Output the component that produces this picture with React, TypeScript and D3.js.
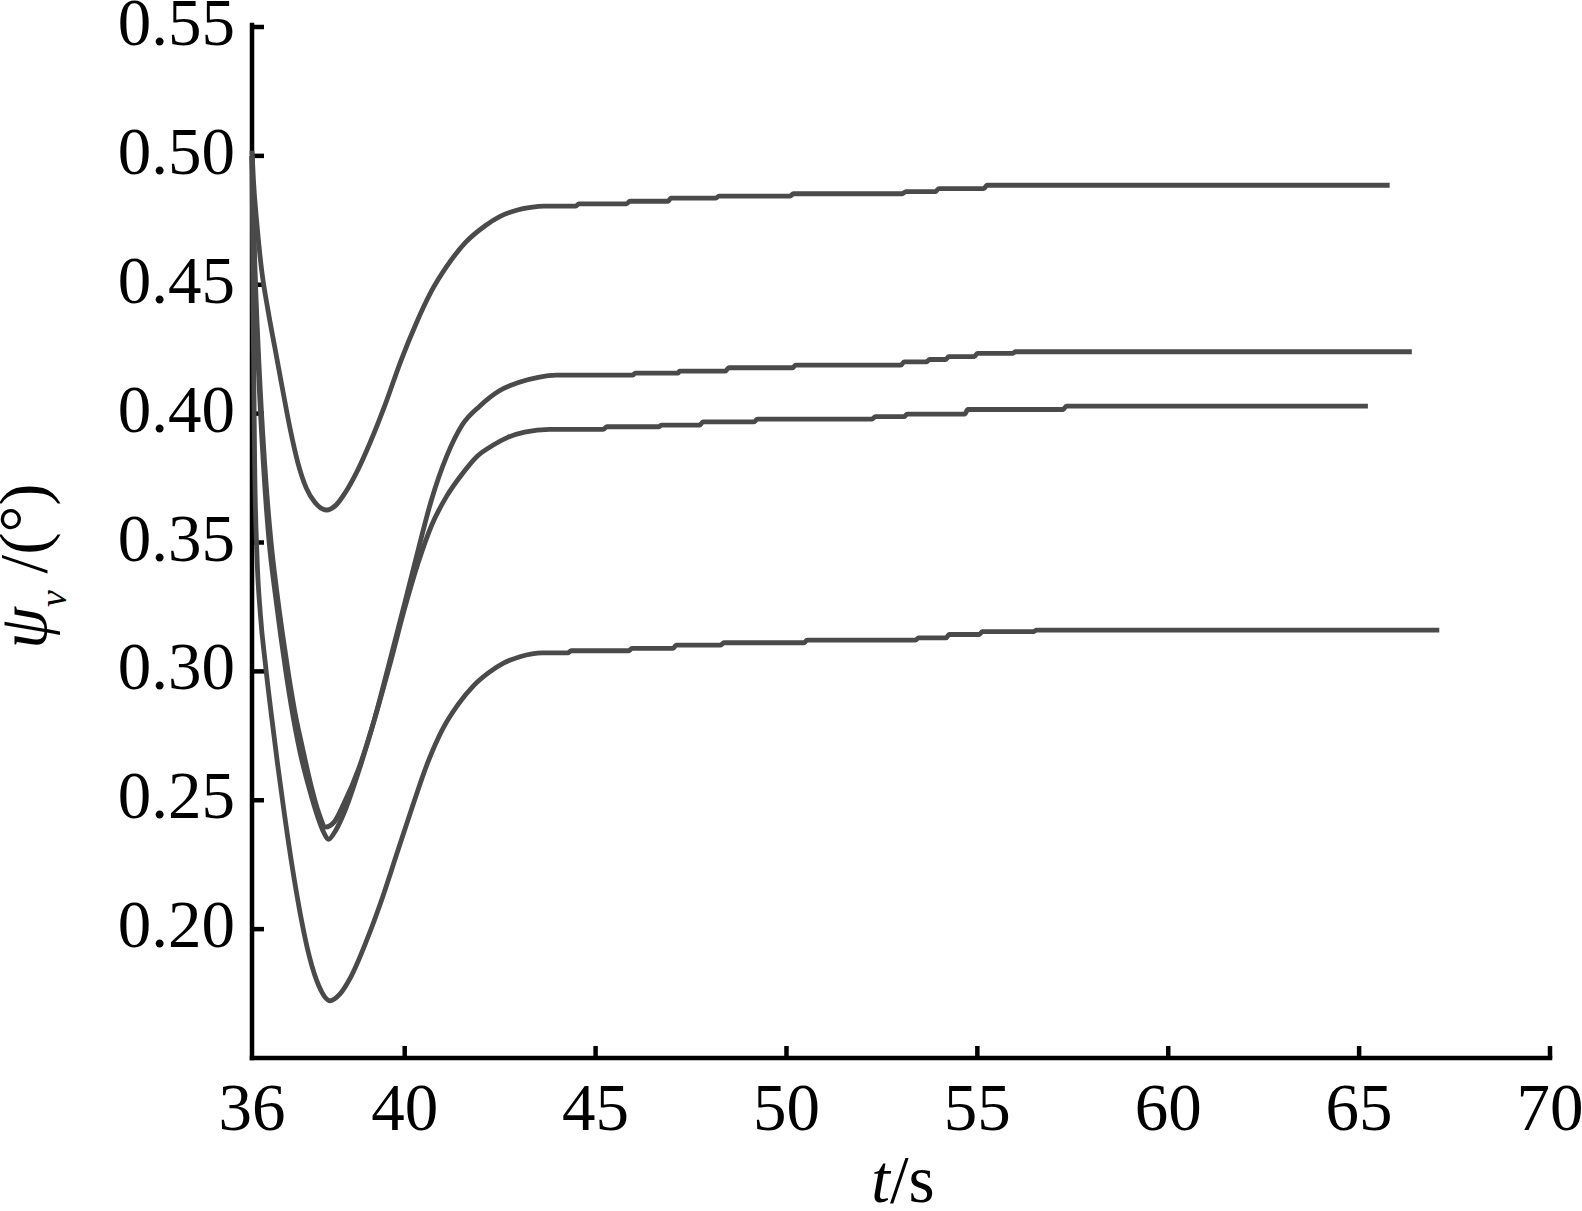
import React from "react";
import * as d3 from "d3";

// ---- data ----
const xTicks = [36, 40, 45, 50, 55, 60, 65, 70];
const yTicks = [0.2, 0.25, 0.3, 0.35, 0.4, 0.45, 0.5, 0.55];

// Curve A (top)
const tA = [36.0, 36.04, 36.12, 36.25, 36.42, 36.6, 36.8, 37.0, 37.2, 37.42, 37.65, 37.96, 38.2, 38.45, 38.75, 39.1, 39.5, 39.9, 40.3, 40.7, 41.1, 41.6, 42.1, 42.5, 42.93, 43.3, 43.65, 44.48, 44.56, 45.81, 45.9, 46.9, 46.97, 48.15, 48.23, 50.1, 50.18, 53.03, 53.13, 53.9, 53.99, 55.17, 55.25, 65.8];
const psiA = [0.502, 0.49, 0.475, 0.456, 0.44, 0.4255, 0.4095, 0.394, 0.381, 0.3712, 0.3655, 0.3626, 0.3645, 0.3695, 0.3775, 0.389, 0.404, 0.4205, 0.435, 0.4475, 0.4571, 0.4665, 0.4728, 0.4765, 0.4789, 0.48, 0.4805, 0.4805, 0.4814, 0.4814, 0.4824, 0.4824, 0.4836, 0.4836, 0.4844, 0.4844, 0.4853, 0.4853, 0.4861, 0.4861, 0.4873, 0.4873, 0.4886, 0.4886];

// Curve B (second)
const tB = [36.0, 36.06, 36.16, 36.3, 36.45, 36.6, 36.75, 36.9, 37.07, 37.26, 37.5, 37.7, 37.88, 38.0, 38.2, 38.45, 38.8, 39.2, 39.6, 40.0, 40.35, 40.7, 41.1, 41.5, 41.97, 42.47, 43.0, 43.5, 43.97, 45.97, 46.04, 47.16, 47.2, 48.4, 48.49, 50.16, 50.24, 53.0, 53.08, 53.67, 53.75, 54.17, 54.25, 54.92, 55.0, 55.92, 56.0, 66.38];
const psiB = [0.5, 0.46, 0.42, 0.38, 0.35, 0.331, 0.314, 0.2985, 0.283, 0.2685, 0.2545, 0.2445, 0.2375, 0.2348, 0.2385, 0.2465, 0.2615, 0.281, 0.3035, 0.3265, 0.347, 0.3665, 0.3835, 0.3955, 0.403, 0.4088, 0.4122, 0.4141, 0.4149, 0.4149, 0.4157, 0.4157, 0.4165, 0.4165, 0.4178, 0.4178, 0.4188, 0.4188, 0.4201, 0.4201, 0.421, 0.421, 0.4221, 0.4221, 0.4234, 0.4234, 0.424, 0.424];

// Curve C (third)
const tC = [36.0, 36.07, 36.18, 36.33, 36.5, 36.65, 36.8, 36.95, 37.12, 37.32, 37.55, 37.75, 37.93, 38.15, 38.4, 38.8, 39.2, 39.6, 40.0, 40.35, 40.7, 41.1, 41.5, 41.9, 42.32, 42.7, 43.14, 43.8, 45.2, 45.3, 46.65, 46.73, 47.73, 47.81, 49.15, 49.24, 52.24, 52.33, 53.08, 53.16, 54.67, 54.75, 57.25, 57.33, 65.23];
const psiC = [0.5, 0.46, 0.42, 0.381, 0.35, 0.331, 0.3145, 0.2995, 0.2845, 0.2705, 0.2555, 0.245, 0.2396, 0.2415, 0.2485, 0.2625, 0.281, 0.302, 0.3245, 0.342, 0.3565, 0.368, 0.3765, 0.3835, 0.3878, 0.3908, 0.3928, 0.3939, 0.3939, 0.3949, 0.3949, 0.3955, 0.3955, 0.3968, 0.3968, 0.3979, 0.3979, 0.3988, 0.3988, 0.3998, 0.3998, 0.4016, 0.4016, 0.4029, 0.4029];

// Curve D (bottom)
const tD = [36.0, 36.03, 36.07, 36.13, 36.22, 36.35, 36.5, 36.67, 36.85, 37.05, 37.27, 37.5, 37.75, 38.04, 38.3, 38.6, 39.0, 39.4, 39.8, 40.2, 40.6, 41.0, 41.4, 41.8, 42.2, 42.6, 43.02, 43.6, 44.28, 44.36, 45.87, 45.95, 47.03, 47.11, 48.28, 48.36, 50.46, 50.54, 53.38, 53.46, 54.18, 54.26, 55.05, 55.13, 56.47, 56.55, 67.1];
const psiD = [0.5, 0.44, 0.38, 0.345, 0.322, 0.303, 0.284, 0.264, 0.2445, 0.2245, 0.2055, 0.1895, 0.178, 0.1722, 0.1748, 0.1818, 0.1955, 0.2115, 0.2295, 0.2475, 0.2645, 0.2778, 0.2872, 0.2944, 0.2995, 0.3033, 0.3057, 0.3072, 0.3072, 0.308, 0.308, 0.3089, 0.3089, 0.3102, 0.3102, 0.3111, 0.3111, 0.3121, 0.3121, 0.313, 0.313, 0.3143, 0.3143, 0.3154, 0.3154, 0.316, 0.316];

const seriesT = [tA, tB, tC, tD];
const seriesPsi = [psiA, psiB, psiC, psiD];

const W = 1582;
const H = 1211;
const FONT = "'Liberation Serif', 'Times New Roman', serif";

export default function App() {
  const x = d3.scaleLinear().domain([36, 70]).range([252, 1550]);
  const y = d3.scaleLinear().domain([0.15, 0.55]).range([1058, 27]);
  const line = d3
    .line<[number, number]>()
    .x((d) => x(d[0]))
    .y((d) => y(d[1]))
    .curve(d3.curveMonotoneX);

  const paths = seriesT.map((ts, i) =>
    line(ts.map((t, j) => [t, seriesPsi[i][j]] as [number, number]))
  );

  const tickLen = 12;
  const x0 = x(36);
  const y0 = y(0.15);

  return (
    <svg
      width={W}
      height={H}
      style={{ position: "absolute", left: 0, top: 0, background: "#fff" }}
      fontFamily={FONT}
    >
      <rect x={0} y={0} width={W} height={H} fill="#fff" />
      {/* axes */}
      <g stroke="#000" strokeWidth={4.5} fill="none">
        <line x1={x0} y1={y(0.55) - 2} x2={x0} y2={y0} strokeLinecap="square" />
        <line x1={x0} y1={y0} x2={x(70)} y2={y0} strokeLinecap="square" />
        {yTicks.map((v) => (
          <line key={"yt" + v} x1={x0} x2={x0 + tickLen} y1={y(v)} y2={y(v)} />
        ))}
        {xTicks.slice(1).map((v) => (
          <line key={"xt" + v} x1={x(v)} x2={x(v)} y1={y0} y2={y0 - tickLen} />
        ))}
      </g>
      {/* curves */}
      <g stroke="#4a4a4a" strokeWidth={4.8} fill="none" strokeLinejoin="round">
        {paths.map((p, i) => (
          <path key={"c" + i} d={p || ""} />
        ))}
      </g>
      {/* tick labels */}
      <g fontSize={67} fill="#000">
        {yTicks.map((v) => (
          <text key={"yl" + v} x={235} y={y(v) + 18} textAnchor="end">
            {d3.format(".2f")(v)}
          </text>
        ))}
        {xTicks.map((v) => (
          <text key={"xl" + v} x={x(v)} y={1130} textAnchor="middle">
            {v}
          </text>
        ))}
      </g>
      {/* axis titles */}
      <text x={903} y={1202} fontSize={67} textAnchor="middle" fill="#000">
        <tspan fontStyle="italic">t</tspan>
        <tspan>/s</tspan>
      </text>
      <text
        transform="translate(46,566) rotate(-90)"
        fontSize={67}
        textAnchor="middle"
        fill="#000"
      >
        <tspan fontStyle="italic">ψ</tspan>
        <tspan fontStyle="italic" fontSize={38} dy={20}>v</tspan>
        <tspan dy={-20}> /(°)</tspan>
      </text>
    </svg>
  );
}
